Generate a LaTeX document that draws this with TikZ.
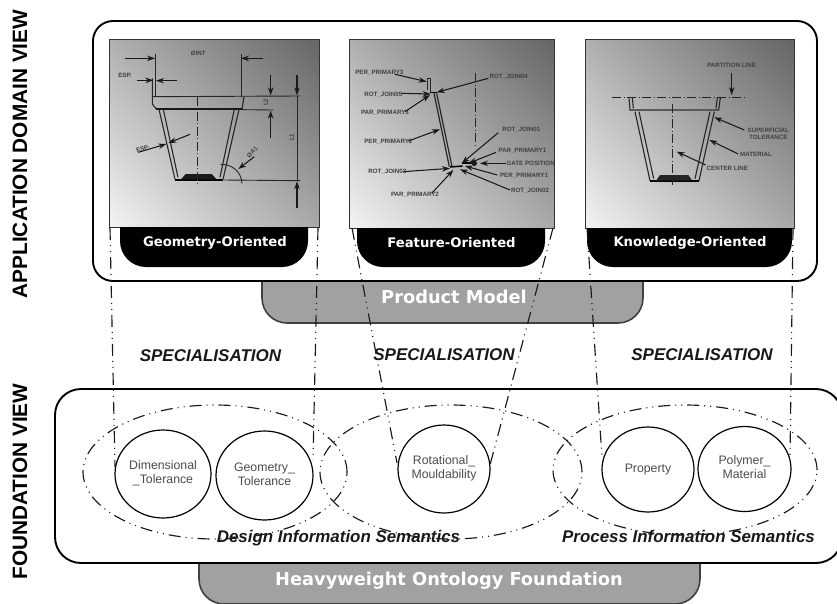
\documentclass[tikz,border=0pt]{standalone}
\usepackage{fontspec}
\setmainfont{Liberation Sans}
\newfontfamily\heavyfont{DejaVu Sans}
\usetikzlibrary{shapes.geometric,arrows.meta}
\definecolor{panellight}{gray}{0.95}
\definecolor{paneldark}{gray}{0.40}
\definecolor{basegray}{gray}{0.63}
\pgfdeclareverticalshading{panelgrad}{100bp}{color(0bp)=(panellight); color(15bp)=(panellight); color(85bp)=(paneldark); color(100bp)=(paneldark)}
\newcommand{\lowtxt}[1]{\raisebox{-2pt}{\begin{tabular}{@{}c@{}}#1\end{tabular}}}
\tikzset{
  x=1pt,y=-1pt,
  outerbox/.style={draw=black,line width=1.9pt,fill=white,rounded corners=20pt},
  basebox/.style={draw=black!75,line width=1.6pt,fill=basegray,rounded corners=25pt},
  basetext/.style={text=white,font=\heavyfont\bfseries\fontsize{17.8}{17.8}\selectfont,inner sep=0pt},
  panel/.style={draw=black!80,line width=0.9pt,anchor=north west,inner sep=0pt,outer sep=0pt,
     shading=panelgrad,shading angle=-45},
  tabtext/.style={text=white,font=\heavyfont\bfseries\fontsize{13.2}{13.2}\selectfont,inner sep=0pt},
  dd/.style={line width=1.15pt,dash pattern=on 12pt off 5pt on 1pt off 5pt on 1pt off 5pt,draw=black!90},
  cdl/.style={line width=0.95pt,dash pattern=on 9pt off 2.5pt on 1pt off 2.5pt,draw=black!85},
  concept/.style={draw=black,line width=1.2pt,ellipse,inner sep=0pt,align=center,text=black!70,
     font=\fontsize{12.3}{14}\selectfont},
  group/.style={dd,ellipse,inner sep=0pt},
  spec/.style={font=\bfseries\itshape\fontsize{17}{17}\selectfont,inner sep=0pt,text=black!90},
  sem/.style={font=\bfseries\itshape\fontsize{16.9}{16.9}\selectfont,inner sep=0pt,text=black!90},
  sideview/.style={font=\bfseries\fontsize{20.8}{20.8}\selectfont,rotate=90,inner sep=0pt},
  tiny/.style={font=\bfseries\fontsize{6.2}{6.6}\selectfont,inner sep=0pt,text=black!75,align=center},
  dl/.style={line width=0.9pt,draw=black!85},
  wl/.style={line width=1.1pt,draw=black!85},
  ar/.style={line width=1.05pt,draw=black!90,-{Stealth[length=8pt,width=5.5pt]}},
}
\begin{document}
\begin{tikzpicture}
\useasboundingbox (0,0) rectangle (837,603);

% base strips
\draw[basebox] (262,270) -- (262,323) -- (643,323) -- (643,270);
\draw[basebox] (199,550) -- (199,604) -- (700,604) -- (700,550);

% main boxes
\draw[outerbox] (93,21) rectangle (817,281);
\draw[outerbox,rounded corners=26pt] (55,389) rectangle (842,563);
\node[basetext] (pm) at (454,296.5) {Product Model};
\node[basetext] (hw) at (449,581) {Heavyweight Ontology Foundation};

% panels
\node[panel,minimum width=210pt,minimum height=188pt] (geo) at (109,39) {};
\node[panel,minimum width=205pt,minimum height=189pt] (fea) at (349,39) {};
\node[panel,minimum width=209pt,minimum height=189pt] (kno) at (585,39) {};

% tabs
\fill[black] (120,227) [rounded corners=26pt] -- (120,267) -- (308,267) [sharp corners] -- (308,227) -- cycle;
\fill[black] (357,228) [rounded corners=26pt] -- (357,267) -- (545,267) [sharp corners] -- (545,228) -- cycle;
\fill[black] (587,228) [rounded corners=26pt] -- (587,267) -- (792,267) [sharp corners] -- (792,228) -- cycle;
\node[tabtext] (geot) at (215,243) {Geometry-Oriented};
\node[tabtext] (feat) at (451.5,243) {Feature-Oriented};
\node[tabtext] (knot) at (690,243) {Knowledge-Oriented};

% panel 1 drawing
\begin{scope}[shift={(95,20)},scale=1/3]
\draw[dl] (180,103) -- (180,230) (438,103) -- (438,230);
\draw[ar] (90,115) -- (180,115);
\draw[ar] (505,115) -- (438,115);
\node[tiny] (d1) at (310,99) {ØINT};
\node[tiny] (d2) at (90,167) {ESP.};
\draw[ar] (125,181) -- (175,181);
\draw[ar] (245,182) -- (183,182);
\draw[wl] (172,175) -- (172,252) -- (184,267);
\draw[dl] (172,230) -- (615,228);
\draw[line width=1.8pt,draw=black!90] (184,267) -- (445,267);
\draw[wl] (447,230) -- (441,267);
\draw[dl] (445,269) -- (535,270);
\draw[wl] (192,268) -- (240,478) (205,268) -- (249,472);
\draw[wl] (432,268) -- (384,478) (418,268) -- (375,472);
\draw[line width=1.6pt] (240,480) -- (385,480);
\fill[black!90] (258,478) -- (272,462) -- (350,462) -- (365,478) -- cycle;
\draw[dl] (385,480) -- (615,482);
\draw[cdl] (307,230) -- (307,492);
\node[tiny,rotate=90] (d3) at (512,247) {L2};
\draw[ar] (527,165) -- (527,226);
\draw[ar] (527,355) -- (527,272);
\node[tiny,rotate=90] (d4) at (590,352) {L1};
\draw[ar] (606,165) -- (606,226);
\draw[ar] (606,565) -- (606,484);
\draw[dl] (606,228) -- (606,482);
\draw[ar] (130,397) -- (214,372);
\draw[ar] (285,343) -- (220,369);
\node[tiny,rotate=20] (d5) at (143,386) {ESP.};
\draw[dl] (377,433) .. controls (410,432) and (440,455) .. (441,491);
\draw[ar] (478,410) -- (430,447);
\node[tiny,rotate=45] (d6) at (472,397) {ØA1};
\end{scope}

% panel 2 drawing
\begin{scope}[shift={(340,30)},scale=1/3]
\draw[wl] (262,180) -- (262,146) -- (271,146) -- (271,185);
\draw[wl,line width=1.2pt] (282,190) -- (328,410) (290,190) -- (336,410);
\draw[line width=1.5pt] (270,187) -- (290,187);
\draw[line width=1.5pt] (330,411) -- (368,408);
\draw[line width=1.8pt] (365,398) -- (405,398);
\fill[black!90] (403,400) circle[radius=8];
\draw[cdl] (405,130) -- (405,352);
\node[tiny] (f1) at (118,127) {PER\_PRIMARY3};
\node[tiny] (f2) at (130,193) {ROT\_JOIN05};
\node[tiny] (f3) at (135,248) {PAR\_PRIMARY3};
\node[tiny] (f4) at (145,335) {PER\_PRIMARY2};
\node[tiny] (f5) at (142,426) {ROT\_JOIN03};
\node[tiny] (f6) at (225,493) {PAR\_PRIMARY2};
\node[tiny] (f7) at (506,141) {ROT\_JOIN04};
\node[tiny] (f8) at (544,300) {ROT\_JOIN01};
\node[tiny] (f9) at (547,361) {PAR\_PRIMARY1};
\node[tiny] (f10) at (572,400) {GATE POSITION};
\node[tiny] (f11) at (552,437) {PER\_PRIMARY1};
\node[tiny] (f12) at (570,482) {ROT\_JOIN02};
\draw[ar] (165,133) -- (260,155);
\draw[ar] (185,190) -- (272,192);
\draw[ar] (195,245) -- (270,195);
\draw[ar] (205,333) -- (300,298);
\draw[ar] (190,425) -- (330,415);
\draw[ar] (275,490) -- (340,420);
\draw[ar] (445,145) -- (290,187);
\draw[ar] (475,308) -- (365,400);
\draw[ar] (468,367) -- (385,400);
\draw[ar] (497,400) -- (420,400);
\draw[ar] (472,435) -- (375,408);
\draw[ar] (510,480) -- (360,418);
\end{scope}

% panel 3 drawing
\begin{scope}[shift={(575,30)},scale=1/3]
\draw[cdl] (112,203) -- (515,203);
\node[tiny] (k1) at (470,107) {PARTITION LINE};
\draw[ar] (470,130) -- (470,195);
\draw[wl] (162,203) -- (165,240) -- (180,240) (172,203) -- (175,235);
\draw[wl] (436,203) -- (431,240) -- (415,240) (427,203) -- (423,235);
\draw[line width=2.6pt,draw=black!65] (175,240) -- (420,240);
\draw[wl] (180,245) -- (225,452) (192,245) -- (236,446);
\draw[wl] (418,245) -- (372,452) (405,245) -- (360,446);
\draw[line width=1.5pt] (225,453) -- (372,453);
\fill[black!85] (243,452) -- (255,435) -- (340,435) -- (352,452) -- cycle;
\draw[cdl] (292,222) -- (292,466);
\draw[ar] (508,300) -- (418,262);
\draw[ar] (490,372) -- (403,330);
\draw[ar] (392,405) -- (305,365);
\node[tiny] (k2) at (580,311) {SUPERFICIAL\\TOLERANCE};
\node[tiny] (k3) at (543,373) {MATERIAL};
\node[tiny] (k4) at (457,416) {CENTER LINE};
\end{scope}

% concept ellipses
\node[concept,minimum width=96pt,minimum height=88pt] (dim) at (163,474) {\lowtxt{Dimensional\\\_Tolerance}};
\node[concept,minimum width=97pt,minimum height=89pt] (gmt) at (264.5,475.5) {\lowtxt{Geometry\_\\Tolerance}};
\node[concept,minimum width=92pt,minimum height=88pt] (rot) at (444,469) {\lowtxt{Rotational\_\\Mouldability}};
\node[concept,minimum width=92pt,minimum height=85pt] (pro) at (648,469.5) {Property};
\node[concept,minimum width=93pt,minimum height=85pt] (pol) at (744.5,469) {\lowtxt{Polymer\_\\Material}};

% groups
\node[group,minimum width=264pt,minimum height=134pt] (g1) at (215,472) {};
\node[group,minimum width=262pt,minimum height=134pt] (g2) at (451,472) {};
\node[group,minimum width=264pt,minimum height=130pt] (g3) at (685,470) {};

% specialisation connectors
\coordinate (a1) at (110,228); \coordinate (b1) at (115,467);
\coordinate (a2) at (318,228); \coordinate (b2) at (313,460);
\coordinate (a3) at (352,228); \coordinate (b3) at (397,463);
\coordinate (a4) at (553,228); \coordinate (b4) at (490,465);
\coordinate (a5) at (587,228); \coordinate (b5) at (602,458);
\coordinate (a6) at (793,228); \coordinate (b6) at (790,458);
\foreach \i in {1,...,6}{\draw[dd] (a\i) -- (b\i);}

% labels
\node[spec] (s1) at (210.5,356) {SPECIALISATION};
\node[spec] (s2) at (444,355) {SPECIALISATION};
\node[spec] (s3) at (702,355) {SPECIALISATION};
\node[sem] (t1) at (338.5,538) {Design Information Semantics};
\node[sem] (t2) at (688.5,536) {Process Information Semantics};
\node[sideview] (v1) at (20,154) {APPLICATION DOMAIN VIEW};
\node[sideview] (v2) at (20,481.5) {FOUNDATION VIEW};
\end{tikzpicture}
\end{document}
